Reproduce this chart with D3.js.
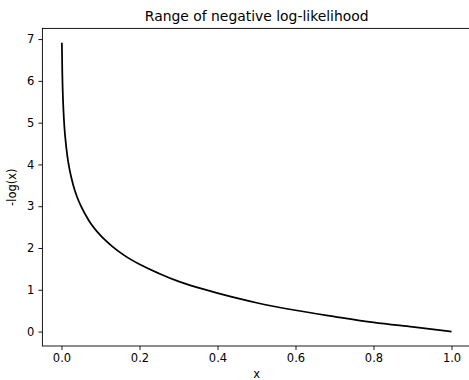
<!DOCTYPE html>
<html>
<head>
<meta charset="utf-8">
<script src="https://cdn.jsdelivr.net/npm/d3@7"></script>
<style>
  body { margin: 0; background: #fff; }
  svg { display: block; font-family: "DejaVu Sans", sans-serif; }
</style>
</head>
<body>
<svg id="chart"></svg>
<script>
// points
const xValues = [0.001, 0.002, 0.003, 0.005, 0.0075, 0.01, 0.015, 0.02, 0.03, 0.04, 0.05, 0.07, 0.1, 0.13, 0.16, 0.2, 0.25, 0.3, 0.35, 0.4, 0.45, 0.5, 0.6, 0.7, 0.8, 0.9, 1.0];
const yValues = [6.91, 6.21, 5.81, 5.30, 4.89, 4.61, 4.20, 3.91, 3.51, 3.22, 3.00, 2.66, 2.30, 2.04, 1.83, 1.61, 1.39, 1.20, 1.05, 0.92, 0.80, 0.69, 0.51, 0.36, 0.22, 0.11, 0.00];
const xTicks = [0.0, 0.2, 0.4, 0.6, 0.8, 1.0];
const yTicks = [0, 1, 2, 3, 4, 5, 6, 7];

const W = 469, H = 380;
const margin = { top: 28.4, right: -2, bottom: 34, left: 42.4 };
const width = W - margin.left - margin.right;
const height = H - margin.top - margin.bottom;

const svg = d3.select("#chart").attr("width", W).attr("height", H);
const g = svg.append("g").attr("transform", `translate(${margin.left},${margin.top})`);

// matplotlib style 5% margins
const xMin = d3.min(xValues), xMax = d3.max(xValues);
const yMin = d3.min(yValues), yMax = d3.max(yValues);
const dx = (xMax - xMin) * 0.05, dy = (yMax - yMin) * 0.05;
const x = d3.scaleLinear().domain([xMin - dx, xMax + dx]).range([0, width]);
const y = d3.scaleLinear().domain([yMin - dy, yMax + dy]).range([height, 0]);

const points = xValues.map((v, i) => [v, yValues[i]]);
const line = d3.line()
    .x(d => x(d[0]))
    .y(d => y(d[1]))
    .curve(d3.curveMonotoneX);

g.append("path")
    .datum(points)
    .attr("d", line)
    .attr("fill", "none")
    .attr("stroke", "#000")
    .attr("stroke-width", 1.75);

const xAxis = g.append("g")
    .attr("transform", `translate(0,${height})`)
    .call(d3.axisBottom(x).tickValues(xTicks).tickFormat(d3.format(".1f")).tickSize(4).tickPadding(4));
const yAxis = g.append("g")
    .call(d3.axisLeft(y).tickValues(yTicks).tickFormat(d3.format("d")).tickSize(4).tickPadding(4));

[xAxis, yAxis].forEach(a => {
    a.select(".domain").remove();
    a.selectAll("line").attr("stroke", "#000").attr("stroke-width", 0.9);
    a.selectAll("text").attr("fill", "#000").style("font-size", "11.5px").style("font-family", "DejaVu Sans");
});

// spines
g.append("rect")
    .attr("width", width).attr("height", height)
    .attr("fill", "none").attr("stroke", "#000").attr("stroke-width", 0.9);

svg.append("text")
    .attr("x", margin.left + width / 2).attr("y", 21.3)
    .attr("text-anchor", "middle")
    .style("font-size", "13.9px")
    .text("Range of negative log-likelihood");

svg.append("text")
    .attr("x", margin.left + width / 2).attr("y", 378)
    .attr("text-anchor", "middle")
    .style("font-size", "11.5px")
    .text("x");

svg.append("text")
    .attr("transform", `translate(15.5,${margin.top + height / 2}) rotate(-90)`)
    .attr("text-anchor", "middle")
    .style("font-size", "11.5px")
    .text("-log(x)");
</script>
</body>
</html>
